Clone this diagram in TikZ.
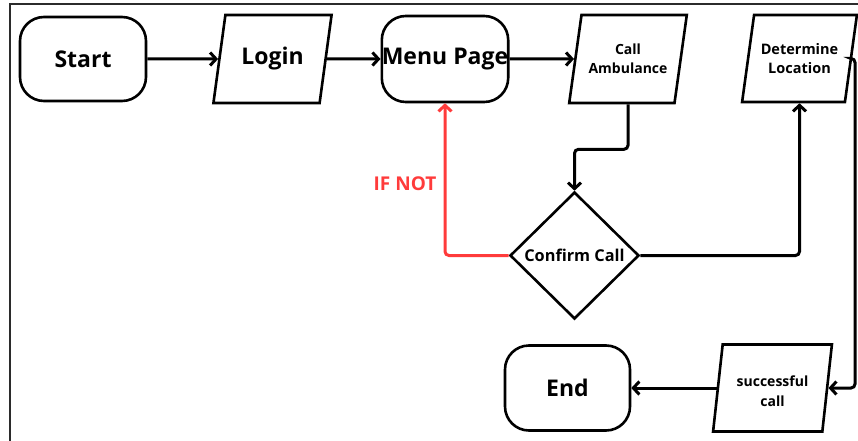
\documentclass[tikz,border=0pt]{standalone}
\usepackage{fontspec}
\setmainfont{Open Sans}
\usetikzlibrary{shapes.geometric,arrows.meta}

\definecolor{ifnot}{HTML}{FF3B3B}
\definecolor{framegray}{HTML}{2B2B2B}

\tikzset{
  base/.style={draw=black, line width=2.6pt, inner sep=0pt, align=center,
    font=\bfseries},
  terminal/.style={base, rectangle, rounded corners=24pt},
  io/.style={base, trapezium, trapezium left angle=71, trapezium right angle=109,
    trapezium stretches=true, minimum width=119pt, minimum height=88pt},
  decision/.style={base, diamond, minimum width=129pt, minimum height=127pt},
  arr/.style={line width=3pt, draw=black,
    -{Straight Barb[length=6pt,width=13pt]}},
  noarr/.style={arr, draw=ifnot},
  big/.style={font=\bfseries\fontsize{23}{26}\selectfont},
  small/.style={font=\bfseries\fontsize{14}{19.5}\selectfont},
}

\begin{document}
\begin{tikzpicture}[x=1pt, y=-1pt]
  \useasboundingbox (0,0) rectangle (858,441);

  % outer frame
  \draw[framegray, line width=2pt] (10,441) -- (10,4) -- (858,4);

  % boxes
  \node[terminal, big, minimum width=126pt, minimum height=84pt] (start) at (83,59) {Start};
  \node[io, big] (login) at (272.5,59) {\raisebox{3pt}{Login}};
  \node[terminal, big, minimum width=126pt, minimum height=86pt] (menu) at (445,59) {Menu Page};
  \node[io, small, minimum width=118pt] (call) at (628,59) {Call\\Ambulance};
  \node[io, small, font=\bfseries\fontsize{14.5}{19.5}\selectfont, minimum width=115pt, minimum height=87pt] (det) at (799.5,58.5) {Determine\\[-1pt]Location};
  \node[decision, font=\bfseries\fontsize{16.3}{18}\selectfont] (confirm) at (574.5,255.5) {Confirm Call};
  \node[io, small, minimum width=119pt, minimum height=87pt] (succ) at (772.5,388)
    {\raisebox{-8pt}[10pt][10pt]{\begin{tabular}{@{}c@{}}successful\\call\end{tabular}}};
  \node[terminal, big, minimum width=125pt, minimum height=85pt] (end) at (567.5,388) {End};

  % side label on the return path
  \node[text=ifnot, font=\bfseries\fontsize{19}{22}\selectfont] (iflabel) at (405,184) {IF NOT};

  % right-hand rail
  \coordinate (rail) at (855,0);

  % connectors
  \draw[arr] (start) -- (login);
  \draw[arr] (login) -- (menu);
  \draw[arr] (menu) -- (call);
  \draw[arr, rounded corners=4pt] (call.south) -- ++(0,45) -| (confirm.north);
  \draw[noarr, rounded corners=4pt] (confirm.west) -| (menu.south);
  \draw[arr, rounded corners=4pt] (confirm.east) -| (det.south);
  \draw[arr, rounded corners=4pt] (det.east) -- (det.east -| rail) -- (rail |- succ.east) -- (succ.east);
  \draw[arr] (succ) -- (end);
\end{tikzpicture}
\end{document}
